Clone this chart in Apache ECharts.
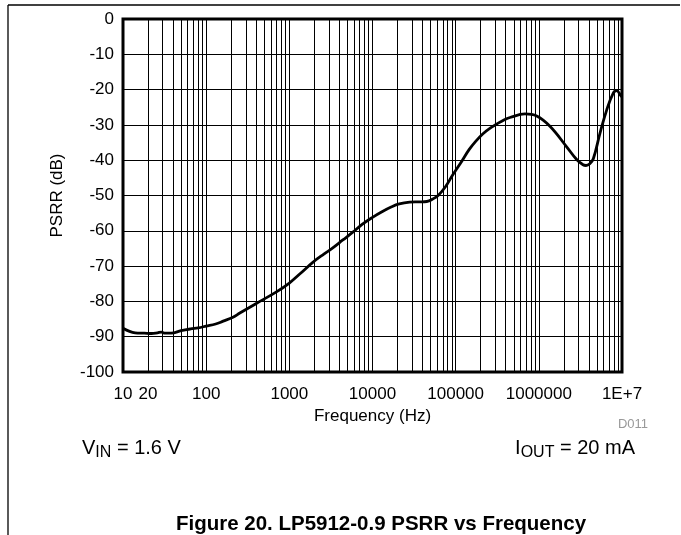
<!DOCTYPE html>
<html>
<head>
<meta charset="utf-8">
<script src="https://cdn.jsdelivr.net/npm/echarts@6/dist/echarts.min.js"></script>
<style>
  html, body { margin: 0; padding: 0; background: #fff; }
  #chart { width: 681px; height: 535px; }
</style>
</head>
<body>
<div id="chart"></div>
<script>
// ---- Data ----
const freqHz = [10, 12, 14, 18, 22, 26, 29, 32, 38, 50, 65, 80, 100, 130, 160, 210, 254, 400, 700, 1000,
  1400, 1900, 2600, 3300, 4400, 5800, 7500, 10000, 13000, 17000, 21000, 28000, 36000, 45000, 53000, 62000,
  75000, 92000, 119000, 145000, 175000, 213000, 260000, 311000, 380000, 450000, 681000, 942000, 1360000, 2160000,
  2850000, 3400000, 3690000, 4100000, 4520000, 5430000, 6540000, 7850000, 8630000, 9720000, 10000000];
const psrrDb = [-87.6, -88.5, -88.9, -89.0, -89.1, -88.9, -88.7, -89.0, -89.0, -88.3, -87.8, -87.5, -87.0, -86.4, -85.6, -84.5, -83.3, -80.6, -77.3, -74.8,
  -71.8, -69.0, -66.6, -64.9, -62.6, -60.4, -58.2, -56.2, -54.6, -53.2, -52.4, -51.9, -51.8, -51.7, -51.0, -49.9,
  -47.6, -44.2, -40.2, -37.0, -34.6, -32.5, -30.9, -29.8, -28.6, -27.9, -26.9, -27.5, -30.4, -36.2,
  -39.8, -41.3, -41.5, -41.0, -39.6, -32.4, -25.8, -21.0, -20.3, -21.8, -22.1];

const xMin = 10, xMax = 1e7;
const yMin = -100, yMax = 0, yStep = 10;
const xLabelExtra = [20];                 // extra tick label shown next to "10"
const decadeStarts = [10, 100, 1000, 10000, 100000, 1000000];
const minorMultipliers = [2, 3, 4, 5, 6, 7, 8, 9];

const FONT = "'Liberation Sans', Arial, sans-serif";

const minorLines = [];
decadeStarts.forEach(d => minorMultipliers.forEach(m => {
  const v = d * m;
  const item = { xAxis: v };
  if (xLabelExtra.indexOf(v) >= 0) {
    item.label = { show: true, position: 'start', formatter: String(v), distance: 14,
      color: '#000', fontSize: 17, fontFamily: FONT };
  }
  minorLines.push(item);
}));

const seriesData = freqHz.map((f, i) => [f, psrrDb[i]]);

const chart = echarts.init(document.getElementById('chart'), null, { renderer: 'canvas' });
chart.setOption({
  animation: false,
  backgroundColor: '#fff',
  grid: {
    left: 123, right: 59, top: 19, bottom: 163,
    show: true, borderColor: '#000', borderWidth: 3, backgroundColor: 'transparent'
  },
  xAxis: {
    type: 'log', logBase: 10, min: xMin, max: xMax,
    name: 'Frequency (Hz)', nameLocation: 'middle', nameGap: 32,
    nameTextStyle: { color: '#000', fontSize: 17, fontFamily: FONT },
    axisLine: { show: false },
    axisTick: { show: false },
    axisLabel: {
      color: '#000', fontSize: 17, fontFamily: FONT, margin: 14,
      showMinLabel: true, showMaxLabel: true,
      formatter: v => (v >= 1e7 ? '1E+7' : String(Math.round(v)))
    },
    splitLine: { show: true, lineStyle: { color: '#000', width: 1 } }
  },
  yAxis: {
    type: 'value', min: yMin, max: yMax, interval: yStep,
    name: 'PSRR (dB)', nameLocation: 'middle', nameGap: 57,
    nameTextStyle: { color: '#000', fontSize: 17, fontFamily: FONT },
    axisLine: { show: false },
    axisTick: { show: false },
    axisLabel: { color: '#000', fontSize: 17, fontFamily: FONT, margin: 9 },
    splitLine: { show: true, lineStyle: { color: '#000', width: 1 } }
  },
  series: [
    {
      type: 'line', data: [], z: 1, silent: true,
      markLine: {
        silent: true, animation: false, symbol: ['none', 'none'],
        label: { show: false },
        lineStyle: { color: '#000', width: 1, type: 'solid' },
        emphasis: { disabled: true },
        data: minorLines
      }
    },
    {
      type: 'line', data: seriesData, z: 5, smooth: 0.4, showSymbol: false, symbol: 'none',
      lineStyle: { color: '#000', width: 2.8 }
    }
  ],
  graphic: [
    { type: 'line', shape: { x1: 8, y1: 5, x2: 680, y2: 5 }, style: { stroke: '#000', lineWidth: 1.3 } },
    { type: 'line', shape: { x1: 8, y1: 5, x2: 8, y2: 535 }, style: { stroke: '#000', lineWidth: 1.3 } },
    { type: 'text', x: 648, y: 424, style: { text: 'D011', fill: '#999', fontSize: 13, fontFamily: FONT, align: 'right', verticalAlign: 'middle' } },
    { type: 'text', x: 82, y: 448, style: {
        text: '{m|V}{s|IN}{m| = 1.6 V}', align: 'left', verticalAlign: 'middle',
        rich: {
          m: { fontSize: 20, fontFamily: FONT, fill: '#000', lineHeight: 25, verticalAlign: 'middle' },
          s: { fontSize: 16, fontFamily: FONT, fill: '#000', lineHeight: 16, verticalAlign: 'bottom' }
        } } },
    { type: 'text', x: 635, y: 448, style: {
        text: '{m|I}{s|OUT}{m| = 20 mA}', align: 'right', verticalAlign: 'middle',
        rich: {
          m: { fontSize: 20, fontFamily: FONT, fill: '#000', lineHeight: 25, verticalAlign: 'middle' },
          s: { fontSize: 16, fontFamily: FONT, fill: '#000', lineHeight: 16, verticalAlign: 'bottom' }
        } } },
    { type: 'text', x: 381, y: 524, style: { text: 'Figure 20. LP5912-0.9 PSRR vs Frequency', fill: '#000', fontSize: 20.5, fontWeight: 'bold', fontFamily: FONT, align: 'center', verticalAlign: 'middle' } }
  ]
});
</script>
</body>
</html>
